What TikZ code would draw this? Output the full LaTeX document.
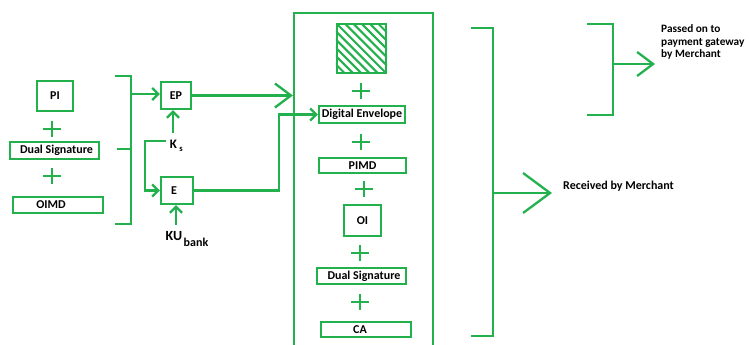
\documentclass[tikz,border=0pt]{standalone}
\usepackage{fontspec}
\setmainfont{Carlito}
\usetikzlibrary{arrows.meta}
\definecolor{pgreen}{HTML}{22B14C}
\newcommand{\txtfont}{\fontsize{12}{12.5}\selectfont\bfseries}
\begin{document}
\begin{tikzpicture}[x=1pt,y=-1pt,
  ln/.style={draw=pgreen, line width=2.3pt},
  box/.style={ln, rectangle, inner sep=0pt, font=\txtfont},
  lbl/.style={inner sep=0pt, font=\txtfont, text=black},
  tipS/.style={-{Straight Barb[length=6pt,width=12pt]}},
  tipB/.style={-{Straight Barb[length=16pt,width=24pt]}},
  tipH/.style={-{Straight Barb[length=27pt,width=40pt]}},
  plus/.pic={\draw[ln] (-9,0) -- (9,0) (0,-8) -- (0,8);}
]
\useasboundingbox (0,0) rectangle (749,345);

% left group
\node[box, minimum width=36pt, minimum height=30pt] (pi) at (55,96) {PI};
\pic at (52,129) {plus};
\node[box, minimum width=89pt, minimum height=17pt] (ds1) at (54.5,150.5) {};
\node[lbl] (ds1t) at (56.5,150.5) {Dual Signature};
\pic at (52,176) {plus};
\node[box, minimum width=90pt, minimum height=16pt] (oimd) at (58,205) {};
\node[lbl] (oimdt) at (51,205) {OIMD};

% left bracket
\draw[ln] (115,76) -| (131,224) -- (115,224);
\draw[ln] (117,149) -- (131,149);
\coordinate (lbr) at (131,94);

% EP and E
\node[box, minimum width=30pt, minimum height=27pt] (ep) at (176,95.5) {EP};
\node[box, minimum width=32pt, minimum height=27pt] (e) at (177,190.5) {};
\node[lbl] (et) at (174,190.5) {E};
\draw[ln, tipS] (lbr) -- (lbr -| ep.west);

% Ks
\node[lbl, font=\fontsize{13}{13}\selectfont\bfseries] (ks) at (173.4,144) {K};
\node[lbl, font=\fontsize{8.5}{9}\selectfont\bfseries] (kss) at (181,149.5) {s};
\coordinate (ksup) at (173,133);
\draw[ln, tipS] (ksup) -- (ksup |- ep.south);
\coordinate (ksl) at (166,141);
\draw[ln, tipS] (ksl) -| ([xshift=-15pt]e.west) -- (e.west);

% KU bank
\node[lbl, font=\fontsize{14}{14}\selectfont\bfseries] (ku) at (174,236.5) {KU};
\node[lbl, font=\fontsize{12}{12}\selectfont\bfseries] (kub) at (196,242) {bank};
\coordinate (kuup) at (176,225);
\draw[ln, tipS] (kuup) -- (kuup |- e.south);

% envelope box
\node[ln, rectangle, minimum width=139pt, minimum height=347pt, inner sep=0pt] (env) at (363.5,186.5) {};
\draw[ln, tipB] (ep.east) -- (ep.east -| env.west);

\node[ln, rectangle, minimum width=49pt, minimum height=49pt, inner sep=0pt] (hatch) at (361.5,48.5) {};
\begin{scope}
  \clip (hatch.south west) rectangle (hatch.north east);
  \foreach \k in {-41.5,-33.2,-24.9,-16.6,-8.3,0,8.3,16.6,24.9,33.2,41.5}
    \draw[pgreen, line width=2.1pt] (337+\k,24) -- ++(49,49);
\end{scope}
\pic at (361,91) {plus};
\node[box, minimum width=86pt, minimum height=17pt] (de) at (362,114.5) {Digital Envelope};
\draw[ln, tipS] (e.east) -| ([xshift=-39pt]de.west) -- (de.west);
\pic at (361,142) {plus};
\node[box, minimum width=87pt, minimum height=15pt] (pimd) at (362.5,165.5) {PIMD};
\pic at (364,189) {plus};
\node[box, minimum width=37pt, minimum height=31pt] (oi) at (362.5,220.5) {OI};
\pic at (360,253) {plus};
\node[box, minimum width=89pt, minimum height=16pt] (ds2) at (361.5,276) {};
\node[lbl] (ds2t) at (364,276) {Dual Signature};
\pic at (360,302) {plus};
\node[box, minimum width=90pt, minimum height=15pt] (ca) at (366,329.5) {};
\node[lbl] (cat) at (360,330) {CA};

% right brackets
\draw[ln] (471,28) -| (493,336) -- (471,336);
\coordinate (rb) at (493,193);
\coordinate (rbt) at (552,193);
\draw[ln, tipH] (rb) -- (rbt);
\node[lbl, anchor=west] (recv) at (563,186) {Received by Merchant};

\draw[ln] (587,24) -| (613,115) -- (587,115);
\coordinate (sb) at (613,64);
\coordinate (sbt) at (655,64);
\draw[ln, tipB] (sb) -- (sbt);
\node[lbl, anchor=west, align=left, font=\fontsize{11.3}{12.5}\selectfont\bfseries] (passed) at (661,42) {Passed on to\\payment gateway\\by Merchant};
\end{tikzpicture}
\end{document}
